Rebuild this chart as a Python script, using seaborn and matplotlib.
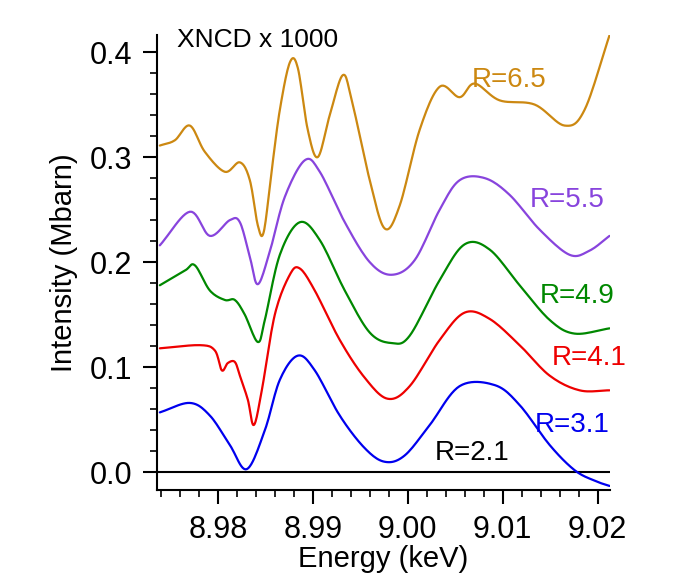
import matplotlib
matplotlib.use("Agg")
import matplotlib.pyplot as plt
import seaborn as sns
import numpy as np
from matplotlib.ticker import MultipleLocator

sns.set_style("ticks")
plt.rcParams['font.family'] = ['Liberation Sans', 'DejaVu Sans']
plt.rcParams['text.color'] = 'black'
plt.rcParams['axes.labelcolor'] = 'black'
plt.rcParams['xtick.color'] = 'black'
plt.rcParams['ytick.color'] = 'black'

e31 = [8.97389,8.97705,8.97916,8.98126,8.98305,8.98495,8.98653,8.98842,8.99021,8.99284,8.99547,8.99758,8.99968,9.00232,9.00547,9.00916,9.01179,9.01495,9.01758,9.01968,9.02126]
v31 = [0.057,0.066,0.054,0.026,0.003,0.040,0.088,0.111,0.097,0.054,0.023,0.010,0.016,0.045,0.082,0.083,0.064,0.026,0.002,-0.008,-0.013]
e41 = [8.97389,8.97811,8.97968,8.98042,8.98105,8.98179,8.98232,8.98316,8.98379,8.98463,8.98600,8.98758,8.98863,8.99021,8.99284,8.99547,8.99789,9.00021,9.00337,9.00600,9.00863,9.01179,9.01495,9.01811,9.02126]
v41 = [0.118,0.121,0.116,0.097,0.104,0.105,0.092,0.069,0.045,0.078,0.150,0.188,0.194,0.173,0.126,0.090,0.070,0.082,0.126,0.152,0.146,0.121,0.092,0.078,0.078]
e49 = [8.97389,8.97653,8.97758,8.97916,8.98074,8.98179,8.98284,8.98421,8.98495,8.98653,8.98863,8.99074,8.99337,8.99600,8.99832,9.00021,9.00337,9.00600,9.00863,9.01179,9.01495,9.01758,9.02126]
v49 = [0.178,0.192,0.197,0.173,0.164,0.164,0.150,0.124,0.145,0.207,0.238,0.221,0.173,0.133,0.123,0.130,0.183,0.217,0.212,0.178,0.145,0.132,0.137]
e55 = [8.97389,8.97705,8.97916,8.98126,8.98232,8.98337,8.98421,8.98547,8.98705,8.98916,8.99074,8.99337,8.99600,8.99832,9.00074,9.00337,9.00547,9.00811,9.01074,9.01389,9.01705,9.01916,9.02126]
v55 = [0.216,0.248,0.225,0.240,0.238,0.205,0.179,0.210,0.262,0.297,0.286,0.238,0.200,0.188,0.202,0.250,0.278,0.280,0.264,0.231,0.207,0.211,0.225]
e65 = [8.97389,8.97547,8.97705,8.97863,8.98074,8.98232,8.98337,8.98421,8.98484,8.98568,8.98653,8.98758,8.98842,8.98947,8.99053,8.99179,8.99316,8.99411,8.99600,8.99758,8.99916,9.00126,9.00337,9.00547,9.00705,9.00968,9.01337,9.01653,9.01863,9.02126]
v65 = [0.311,0.316,0.330,0.305,0.286,0.295,0.278,0.235,0.229,0.288,0.345,0.390,0.385,0.326,0.300,0.340,0.378,0.354,0.278,0.232,0.254,0.326,0.367,0.357,0.370,0.354,0.350,0.330,0.345,0.416]

series = [(e31, v31, "#0000ee"), (e41, v41, "#ee0000"), (e49, v49, "#008800"),
          (e55, v55, "#8844dd"), (e65, v65, "#cc8811")]
labels = [("R=6.5", 9.00674, 0.373, "#cc8811"), ("R=5.5", 9.01284, 0.259, "#8844dd"),
          ("R=4.9", 9.0139, 0.168, "#008800"), ("R=4.1", 9.01516, 0.109, "#ee0000"),
          ("R=3.1", 9.01337, 0.045, "#0000ee"), ("R=2.1", 9.00284, 0.018, "black")]


def smooth(x, y, n=12):
    # Catmull-Rom curve through the read points, for drawing only
    x = np.asarray(x); y = np.asarray(y)
    px = np.concatenate([[2*x[0]-x[1]], x, [2*x[-1]-x[-2]]])
    py = np.concatenate([[2*y[0]-y[1]], y, [2*y[-1]-y[-2]]])
    xs, ys = [], []
    t = np.linspace(0, 1, n, endpoint=False)
    for i in range(1, len(px)-2):
        for P, out in ((px, xs), (py, ys)):
            p0, p1, p2, p3 = P[i-1], P[i], P[i+1], P[i+2]
            out.extend(0.5*((2*p1) + (-p0+p2)*t + (2*p0-5*p1+4*p2-p3)*t**2 + (-p0+3*p1-3*p2+p3)*t**3))
    xs.append(x[-1]); ys.append(y[-1])
    return np.array(xs), np.array(ys)


fig = plt.figure(figsize=(6.83, 5.87), dpi=100)
ax = fig.add_axes([0.230, 0.165, 0.663, 0.775])
ax.axhline(0, color="black", lw=1.5)
for e, v, c in series:
    sx, sy = smooth(e, v)
    sns.lineplot(x=sx, y=sy, color=c, lw=1.6, ax=ax, sort=False)
for t, x, y, c in labels:
    ax.text(x, y, t, color=c, fontsize=20, ha="left", va="center")
ax.text(8.9757, 0.411, "XNCD x 1000", fontsize=19, ha="left", va="center")

ax.set_xlim(8.9736, 9.0213)
ax.set_ylim(-0.017, 0.416)
ax.set_xticks([8.98, 8.99, 9.00, 9.01, 9.02])
ax.set_xticklabels(["8.98", "8.99", "9.00", "9.01", "9.02"])
ax.xaxis.set_minor_locator(MultipleLocator(0.002))
ax.set_yticks([0.0, 0.1, 0.2, 0.3, 0.4])
ax.set_yticklabels(["0.0", "0.1", "0.2", "0.3", "0.4"])
ax.yaxis.set_minor_locator(MultipleLocator(0.02))
ax.tick_params(which="major", length=10, width=1.5, labelsize=22, direction="out", color="black", pad=8)
ax.tick_params(which="minor", length=5, width=1.2, direction="out", color="black")
for s in ["top", "right"]:
    ax.spines[s].set_visible(False)
for s in ["left", "bottom"]:
    ax.spines[s].set_linewidth(1.5)
    ax.spines[s].set_color("black")
ax.set_xlabel("Energy (keV)", fontsize=21, labelpad=0)
ax.set_ylabel("Intensity (Mbarn)", fontsize=21, labelpad=8)
fig.savefig("out.png", dpi=100)
